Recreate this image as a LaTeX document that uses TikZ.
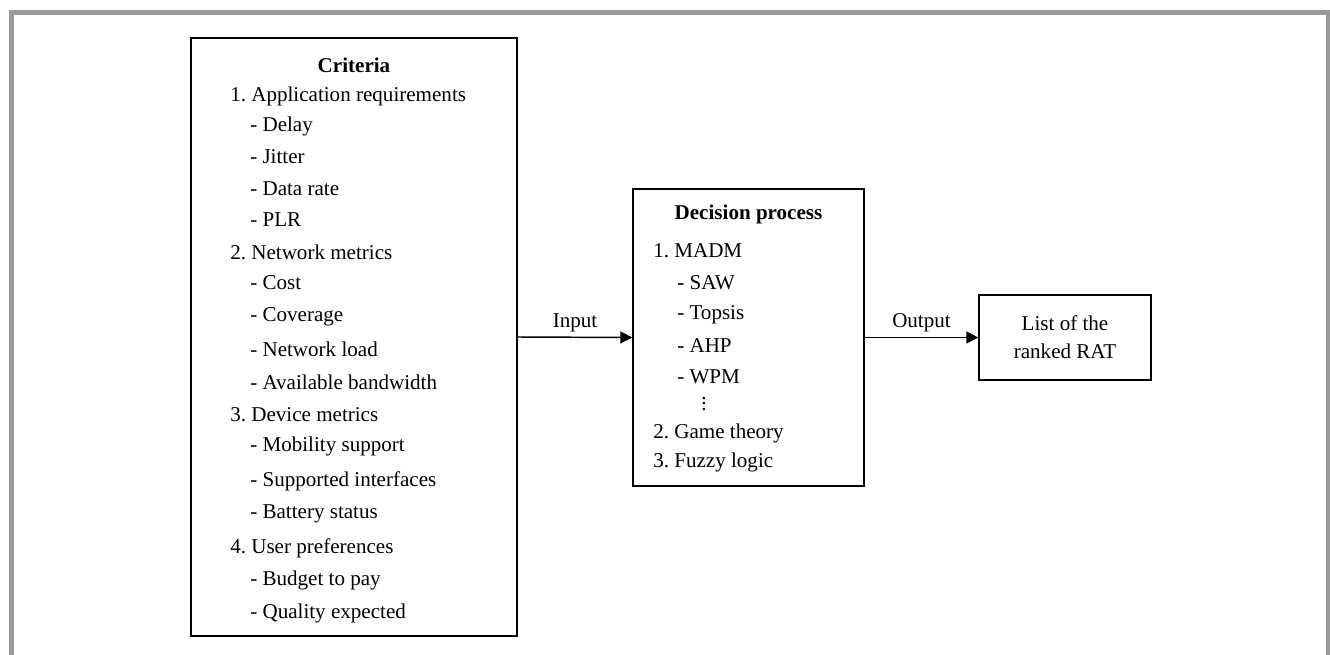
\documentclass[tikz,border=0pt]{standalone}
\usepackage{fontspec}
\setmainfont{Liberation Serif}
\usetikzlibrary{positioning,arrows.meta}
\definecolor{framegray}{HTML}{999999}
\frenchspacing
\tikzset{
  box/.style={draw, line width=1.1pt, inner sep=0pt},
  item/.style={anchor=base west, inner sep=0pt},
  head/.style={anchor=base, inner sep=0pt, font=\fontsize{15.8}{21}\selectfont\bfseries},
  link/.style={line width=1.1pt, -{Triangle[length=9pt,width=9pt]}},
}

\begin{document}
\begin{tikzpicture}[x=0.75pt,y=-0.75pt,font=\fontsize{15.8}{21}\selectfont]
            \useasboundingbox (0,0) rectangle (1330,655);
            \draw[line width=3.75pt, framegray] (11.8,665) -- (11.8,12.3) -- (1328.5,12.3) -- (1328.5,665);

            \node[box, minimum width=244.5pt, minimum height=448.5pt] (crit) at (354,337) {};
            \node[box, minimum width=173.25pt, minimum height=222.75pt] (dec) at (748.5,337.5) {};
            \node[box, minimum width=129pt, minimum height=63.75pt, align=center] (rat) at (1065,337.5) {List of the\\ranked RAT};

            \node[head] (crittitle) at (354,72.7) {Criteria};
            \foreach \x/\y/\t [count=\n] in {230/101.7/{1. Application requirements},250/131.7/{- Delay},250/164/{- Jitter},
                250/196/{- Data rate},250/227/{- PLR},230/260/{2. Network metrics},250/290/{- Cost},250/322/{- Coverage},
                250/356.7/{- Network load},250/389.3/{- Available bandwidth},230/421.7/{3. Device metrics},
                250/451.7/{- Mobility support},250/486/{- Supported interfaces},250/518.3/{- Battery status},
                230/553.3/{4. User preferences},250/585/{- Budget to pay},250/618.3/{- Quality expected}}{
                \node[item] (c\n) at (\x,\y) {\t};
            }

            \node[head] (dectitle) at (748.5,220) {Decision process};
            \foreach \x/\y/\t [count=\n] in {653/257.3/{1. MADM},677/289.3/{- SAW},677/319.3/{- Topsis},677/352.3/{- AHP},
                677/383.3/{- WPM},653/438.3/{2. Game theory},653/467.3/{3. Fuzzy logic}}{
                \node[item] (d\n) at (\x,\y) {\t};
            }
            \node[inner sep=0pt] (dots) at (704,400) {$\vdots$};

            \draw[link] (crit.east) -- node[above] (inlabel) {Input} (dec.west);
            \draw[link] (dec.east) -- node[above] (outlabel) {Output} (rat.west);
        \end{tikzpicture}
\end{document}
